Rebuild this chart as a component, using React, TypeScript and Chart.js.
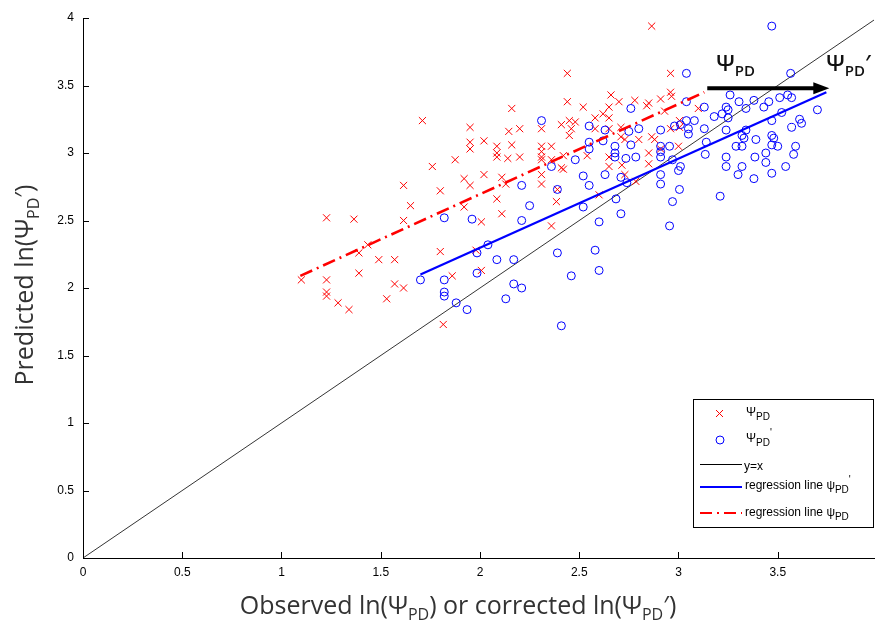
import React, { useEffect, useRef } from 'react';
import { Chart, registerables } from 'chart.js';
Chart.register(...registerables);

const xTickValues = [0, 0.5, 1, 1.5, 2, 2.5, 3, 3.5];
const yTickValues = [0, 0.5, 1, 1.5, 2, 2.5, 3, 3.5, 4];

// Ψ_PD (red ×)
const pdObserved = [1.10,1.227,1.227,1.227,1.227,1.285,1.34,1.365,1.39,1.39,1.435,1.49,1.53,1.57,1.57,1.615,1.615,1.615,1.65,1.71,1.76,1.80,1.80,1.815,1.86,1.875,1.92,1.92,1.95,1.95,1.95,1.95,1.98,2.007,2.007,2.02,2.02,2.085,2.085,2.085,2.085,2.11,2.11,2.13,2.14,2.145,2.16,2.16,2.20,2.20,2.31,2.31,2.31,2.31,2.31,2.31,2.31,2.36,2.36,2.36,2.385,2.39,2.41,2.41,2.42,2.42,2.44,2.44,2.45,2.46,2.45,2.48,2.52,2.54,2.58,2.58,2.60,2.62,2.65,2.65,2.65,2.65,2.65,2.66,2.70,2.71,2.71,2.73,2.715,2.73,2.78,2.785,2.80,2.84,2.85,2.85,2.85,2.865,2.865,2.88,2.91,2.91,2.93,2.96,2.96,2.965,2.96,3.0,3.005,3.005,3.10];
const pdPredicted = [2.06,2.52,2.06,1.97,1.94,1.89,1.84,2.51,2.26,2.11,2.32,2.21,1.92,2.21,2.03,2.76,2.50,2.00,2.61,3.24,2.90,2.72,2.27,1.73,2.09,2.95,2.81,2.60,3.19,3.08,3.03,2.76,2.28,2.13,2.49,3.09,2.84,3.05,3.00,2.97,2.66,2.55,2.82,2.77,2.96,3.16,3.33,3.06,3.18,2.97,3.18,3.05,3.01,2.97,2.95,2.84,2.77,3.05,2.95,2.46,2.64,2.73,3.21,2.89,2.88,2.98,3.59,3.38,3.24,3.18,3.13,3.23,3.34,2.98,3.26,3.18,2.69,3.29,3.34,3.26,3.18,2.97,2.90,3.43,3.38,3.19,3.12,3.10,2.91,2.84,3.39,2.79,3.10,3.35,3.37,3.00,2.92,3.94,3.12,3.10,3.40,3.03,3.31,3.59,3.45,3.42,3.18,3.05,3.24,3.19,3.33];

// Ψ_PD' (blue ○)
const pdCorrObserved = [1.70,1.82,1.82,1.82,1.82,1.88,1.935,1.96,1.985,1.985,2.04,2.085,2.13,2.17,2.17,2.21,2.21,2.21,2.25,2.31,2.36,2.39,2.39,2.41,2.46,2.48,2.52,2.52,2.55,2.55,2.55,2.55,2.58,2.60,2.60,2.62,2.63,2.63,2.68,2.68,2.68,2.685,2.71,2.71,2.735,2.74,2.75,2.76,2.76,2.785,2.80,2.91,2.91,2.91,2.91,2.91,2.91,2.955,2.955,2.97,2.97,2.98,3.0,3.01,3.005,3.01,3.04,3.04,3.04,3.05,3.05,3.08,3.13,3.13,3.14,3.135,3.18,3.21,3.22,3.24,3.25,3.25,3.24,3.24,3.24,3.26,3.29,3.305,3.30,3.32,3.33,3.32,3.32,3.34,3.34,3.38,3.385,3.38,3.39,3.43,3.44,3.44,3.455,3.47,3.47,3.47,3.48,3.47,3.47,3.50,3.51,3.52,3.54,3.55,3.57,3.565,3.57,3.58,3.59,3.61,3.62,3.70];
const pdCorrPredicted = [2.06,2.52,2.06,1.97,1.94,1.89,1.84,2.51,2.26,2.11,2.32,2.21,1.92,2.21,2.03,2.00,2.76,2.50,2.61,3.24,2.90,2.73,2.26,1.72,2.09,2.95,2.60,2.83,3.20,3.08,3.03,2.76,2.28,2.49,2.13,3.09,3.17,2.84,3.05,3.00,2.97,2.66,2.55,2.82,2.96,2.78,3.16,3.33,3.06,2.97,3.18,3.17,3.05,3.01,2.97,2.84,2.77,3.05,2.46,2.95,2.64,3.20,2.87,2.90,2.73,3.21,3.59,3.38,3.24,3.18,3.14,3.24,3.34,3.18,3.08,2.99,3.27,2.68,3.29,3.34,3.32,3.26,3.17,2.97,2.90,3.43,3.05,3.38,2.84,3.13,3.11,3.05,2.90,3.17,3.33,3.39,2.97,2.81,3.10,3.34,3.00,2.93,3.38,3.94,3.24,3.13,3.11,3.06,2.85,3.05,3.41,3.30,2.90,3.43,3.41,3.59,3.19,2.99,3.05,3.25,3.22,3.32];

const identityX = [0, 4];
const identityY = [0, 4];
const regPdX = [1.095, 3.13];
const regPdY = [2.09, 3.45];
const regPdCorrX = [1.70, 3.745];
const regPdCorrY = [2.10, 3.45];
const arrowX = [3.145, 3.76];
const arrowY = [3.48, 3.48];

const pts = (xs: number[], ys: number[]) => xs.map((x, i) => ({ x, y: ys[i] }));

type Seg = { t: string; size: number; dy: number };
function drawSegs(ctx: CanvasRenderingContext2D, segs: Seg[], x: number, y: number, family: string, color: string, align: 'left' | 'center', weight = 'normal') {
  ctx.save();
  ctx.fillStyle = color;
  ctx.textBaseline = 'alphabetic';
  ctx.textAlign = 'left';
  let total = 0;
  for (const s of segs) {
    ctx.font = `${weight} ${s.size}px ${family}`;
    total += ctx.measureText(s.t).width;
  }
  let cx = align === 'center' ? x - total / 2 : x;
  for (const s of segs) {
    ctx.font = `${weight} ${s.size}px ${family}`;
    ctx.fillText(s.t, cx, y + s.dy);
    cx += ctx.measureText(s.t).width;
  }
  ctx.restore();
}

const decorPlugin = {
  id: 'decor',
  afterDraw(chart: any) {
    const ctx: CanvasRenderingContext2D = chart.ctx;
    const xs = chart.scales.x;
    const ys = chart.scales.y;
    const area = chart.chartArea;
    ctx.save();
    // inward ticks
    ctx.strokeStyle = '#000';
    ctx.lineWidth = 1;
    ctx.beginPath();
    for (const v of xTickValues) {
      const px = Math.round(xs.getPixelForValue(v)) + 0.5;
      ctx.moveTo(px, area.bottom);
      ctx.lineTo(px, area.bottom - 6);
    }
    for (const v of yTickValues) {
      const py = Math.round(ys.getPixelForValue(v)) + 0.5;
      ctx.moveTo(area.left, py);
      ctx.lineTo(area.left + 6, py);
    }
    ctx.stroke();

    // arrow
    const ax0 = xs.getPixelForValue(arrowX[0]);
    const ax1 = xs.getPixelForValue(arrowX[1]);
    const ay0 = ys.getPixelForValue(arrowY[0]);
    const ay1 = ys.getPixelForValue(arrowY[1]);
    ctx.strokeStyle = '#000';
    ctx.fillStyle = '#000';
    ctx.lineWidth = 4;
    ctx.beginPath();
    ctx.moveTo(ax0, ay0);
    ctx.lineTo(ax1 - 12, ay1);
    ctx.stroke();
    ctx.beginPath();
    ctx.moveTo(ax1, ay1);
    ctx.lineTo(ax1 - 16, ay1 - 6);
    ctx.lineTo(ax1 - 16, ay1 + 6);
    ctx.closePath();
    ctx.fill();
    ctx.restore();

    const lab = "'Open Sans'";
    drawSegs(ctx, [{ t: 'Ψ', size: 22, dy: 0 }, { t: 'PD', size: 15, dy: 5 }], ax0 + 9, ay0 - 17, lab, '#111', 'left', '600');
    drawSegs(ctx, [{ t: 'Ψ', size: 22, dy: 0 }, { t: 'PD', size: 15, dy: 5 }, { t: '′', size: 22, dy: 0 }], ax1 - 3, ay1 - 17, lab, '#111', 'left', '600');

    // axis titles
    const tf = "'Open Sans'";
    const tc = '#333';
    drawSegs(ctx, [
      { t: 'Observed ln(Ψ', size: 25, dy: 0 },
      { t: 'PD', size: 16, dy: 6 },
      { t: ') or corrected ln(Ψ', size: 25, dy: 0 },
      { t: 'PD', size: 16, dy: 6 },
      { t: '′)', size: 25, dy: 0 },
    ], 458, 614, tf, tc, 'center');
    ctx.save();
    ctx.translate(33, 285);
    ctx.rotate(-Math.PI / 2);
    drawSegs(ctx, [
      { t: 'Predicted ln(Ψ', size: 25, dy: 0 },
      { t: 'PD', size: 16, dy: 6 },
      { t: '′)', size: 25, dy: 0 },
    ], 0, 0, tf, tc, 'center');
    ctx.restore();

    // legend
    ctx.save();
    const L = 693.5, T = 399.5, W = 180, H = 128;
    ctx.fillStyle = '#fff';
    ctx.fillRect(L, T, W, H);
    ctx.strokeStyle = '#000';
    ctx.lineWidth = 1;
    ctx.strokeRect(L, T, W, H);
    // x marker
    ctx.strokeStyle = '#ff0000';
    ctx.beginPath();
    ctx.moveTo(716, 410); ctx.lineTo(723, 417);
    ctx.moveTo(723, 410); ctx.lineTo(716, 417);
    ctx.stroke();
    // circle marker
    ctx.strokeStyle = '#0000ff';
    ctx.beginPath();
    ctx.arc(720, 440, 4, 0, Math.PI * 2);
    ctx.stroke();
    // y=x
    ctx.strokeStyle = '#000';
    ctx.beginPath(); ctx.moveTo(700, 464.5); ctx.lineTo(742, 464.5); ctx.stroke();
    // blue reg
    ctx.strokeStyle = '#0000ff';
    ctx.lineWidth = 2;
    ctx.beginPath(); ctx.moveTo(700, 487); ctx.lineTo(742, 487); ctx.stroke();
    // red reg
    ctx.strokeStyle = '#ff0000';
    ctx.setLineDash([12, 5, 2, 5]);
    ctx.beginPath(); ctx.moveTo(700, 513); ctx.lineTo(742, 513); ctx.stroke();
    ctx.restore();

    const lf = "'Liberation Sans'";
    drawSegs(ctx, [{ t: 'Ψ', size: 12, dy: 0 }, { t: 'PD', size: 10, dy: 4 }], 746, 416, lf, '#000', 'left');
    drawSegs(ctx, [{ t: 'Ψ', size: 12, dy: 0 }, { t: 'PD', size: 10, dy: 4 }, { t: "'", size: 10, dy: -6 }], 746, 442, lf, '#000', 'left');
    drawSegs(ctx, [{ t: 'y=x', size: 12, dy: 0 }], 744, 470, lf, '#000', 'left');
    drawSegs(ctx, [{ t: 'regression line ψ', size: 12, dy: 0 }, { t: 'PD', size: 10, dy: 4 }, { t: "'", size: 10, dy: -6 }], 745, 489, lf, '#000', 'left');
    drawSegs(ctx, [{ t: 'regression line ψ', size: 12, dy: 0 }, { t: 'PD', size: 10, dy: 4 }], 745, 516, lf, '#000', 'left');
  },
};

export default function App() {
  const ref = useRef<HTMLCanvasElement | null>(null);
  useEffect(() => {
    if (!ref.current) return;
    const chart = new Chart(ref.current, {
      type: 'scatter',
      data: {
        datasets: [
          {
            label: "regression line ψPD'",
            data: pts(regPdCorrX, regPdCorrY),
            showLine: true,
            borderColor: '#0000ff',
            borderWidth: 2.2,
            pointRadius: 0,
          },
          {
            label: 'regression line ψPD',
            data: pts(regPdX, regPdY),
            showLine: true,
            borderColor: '#ff0000',
            borderWidth: 2.6,
            borderDash: [13, 5, 2, 5],
            pointRadius: 0,
          },
          {
            label: "ΨPD'",
            data: pts(pdCorrObserved, pdCorrPredicted),
            pointStyle: 'circle',
            pointRadius: 4,
            pointBorderWidth: 1,
            borderColor: '#0000ff',
            backgroundColor: 'rgba(0,0,0,0)',
          },
          {
            label: 'ΨPD',
            data: pts(pdObserved, pdPredicted),
            pointStyle: 'crossRot',
            pointRadius: 5,
            pointBorderWidth: 1,
            borderColor: '#ff0000',
            backgroundColor: 'rgba(0,0,0,0)',
          },
          {
            label: 'y=x',
            data: pts(identityX, identityY),
            showLine: true,
            borderColor: '#000',
            borderWidth: 0.8,
            pointRadius: 0,
          },
        ],
      },
      options: {
        animation: false,
        responsive: false,
        devicePixelRatio: 1,
        layout: { padding: { top: 18, right: 0, left: 0, bottom: 0 } },
        plugins: { legend: { display: false }, tooltip: { enabled: false } },
        scales: {
          x: {
            type: 'linear',
            min: 0,
            max: 3.985,
            grid: { display: false, drawTicks: false },
            border: { display: true, color: '#000', width: 1 },
            afterBuildTicks: (s: any) => { s.ticks = xTickValues.map((v) => ({ value: v })); },
            afterFit: (s: any) => { s.height = 72; },
            ticks: {
              padding: 7,
              color: '#000',
              font: { family: "'Liberation Sans'", size: 12 },
              maxRotation: 0,
              autoSkip: false,
              callback: (v: any) => String(v),
            },
          },
          y: {
            type: 'linear',
            min: 0,
            max: 4,
            grid: { display: false, drawTicks: false },
            border: { display: true, color: '#000', width: 1 },
            afterBuildTicks: (s: any) => { s.ticks = yTickValues.map((v) => ({ value: v })); },
            afterFit: (s: any) => { s.width = 83; },
            ticks: {
              padding: 9,
              color: '#000',
              font: { family: "'Liberation Sans'", size: 12 },
              autoSkip: false,
              callback: (v: any) => String(v),
            },
          },
        },
      },
      plugins: [decorPlugin],
    });
    return () => chart.destroy();
  }, []);
  return (
    <div style={{ position: 'absolute', left: 0, top: 0, width: 880, height: 630, background: '#fff' }}>
      <canvas ref={ref} width={880} height={630} style={{ display: 'block' }} />
    </div>
  );
}
